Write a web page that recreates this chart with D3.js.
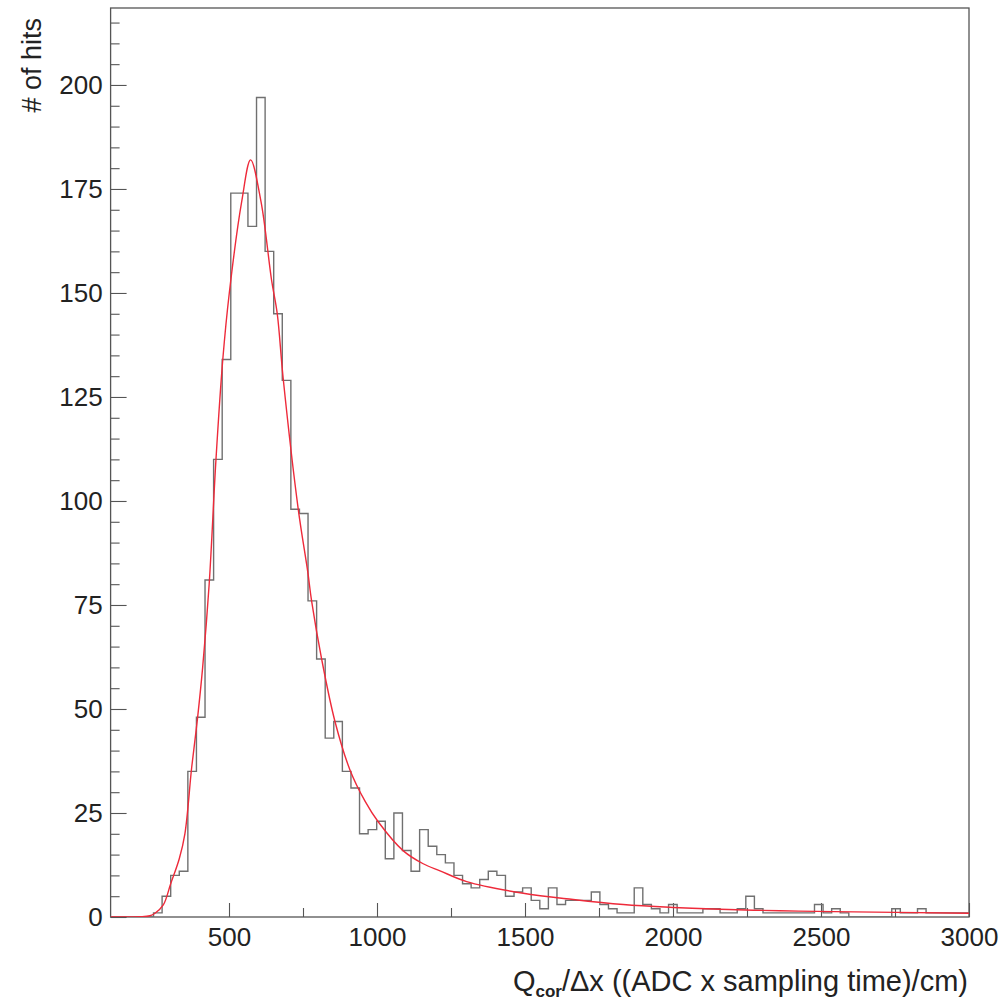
<!DOCTYPE html>
<html><head><meta charset="utf-8">
<script src="https://cdn.jsdelivr.net/npm/d3@7"></script>
<style>body{margin:0;background:#fff}</style>
</head><body><svg id="c" width="1005" height="1000"></svg>
<script>
// ---- data ----
const binStart = 100;
const binWidth = 29;
const counts = [
  0, 0, 0, 0, 0, 1, 5, 10, 11, 35,
  48, 81, 110, 134, 174, 174, 166, 197, 160, 145,
  129, 98, 97, 76, 62, 43, 47, 35, 31, 20,
  21, 23, 14, 25, 16, 11, 21, 17, 15, 13,
  10, 8, 7, 9, 11, 10, 5, 6, 7, 4,
  2, 7, 3, 4, 4, 4, 6, 3, 2, 1,
  1, 7, 3, 2, 1, 3, 1, 1, 1, 2,
  2, 1, 1, 2, 5, 2, 1, 1, 1, 1,
  1, 1, 3, 1, 2, 1, 0, 0, 0, 0,
  0, 2, 1, 1, 2, 1, 1, 1, 1, 1
];
const fitX = [100, 200, 233, 250, 278, 303, 332, 351, 374, 394, 411, 433, 456, 479, 501, 543, 573, 608, 644, 663, 683, 734, 766, 779, 813, 858, 909, 960, 1004, 1089, 1156, 1213, 1303, 1494, 1663, 1832, 2001, 2159, 2361, 2542, 3000];
const fitY = [0, 0.05, 0.3, 0.9, 2.9, 8, 14, 20, 36, 48, 60, 80, 110, 134, 150, 172, 182, 172, 153, 145, 129.5, 98, 83, 76, 62, 47, 35.3, 27.8, 22.9, 15.9, 12.8, 11.1, 8.5, 5.7, 4.2, 3.0, 2.3, 1.85, 1.5, 1.3, 0.9];
const xMajorTicks = [500, 1000, 1500, 2000, 2500, 3000];
const xMinorTicks = [750, 1250, 1750, 2250, 2750];
const yMajorTicks = [0, 25, 50, 75, 100, 125, 150, 175, 200];
const xDomain = [100, 3000];
const yDomain = [0, 218.5];
const yLabel = "# of hits";

// ---- layout ----
const L = 110.6, R = 969, T = 8, B = 917;
const svg = d3.select("#c");
const x = d3.scaleLinear(xDomain, [L, R]);
const y = d3.scaleLinear(yDomain, [B, T]);
const yMinorTicks = d3.range(0, 218.5, 5).filter(v => v % 25 !== 0);
const FONT = "'Liberation Sans', Arial, Helvetica, sans-serif";

svg.append("defs").append("clipPath").attr("id", "clip")
  .append("rect").attr("x", L).attr("y", T).attr("width", R - L).attr("height", B - T);

// axes
function styleAxis(g) {
  g.select(".domain").remove();
  g.selectAll("line").attr("stroke", "#555").attr("stroke-width", 1.1);
  g.selectAll("text").attr("fill", "#222").style("font-family", FONT).style("font-size", "26px");
}
svg.append("g").attr("transform", `translate(0,${B})`)
  .call(d3.axisBottom(x).tickValues(xMajorTicks).tickSize(-14).tickPadding(11).tickFormat(d3.format("d")))
  .call(styleAxis);
svg.append("g").attr("transform", `translate(0,${B})`)
  .call(d3.axisBottom(x).tickValues(xMinorTicks).tickSize(-9).tickFormat(""))
  .call(styleAxis);
svg.append("g").attr("transform", `translate(${L},0)`)
  .call(d3.axisLeft(y).tickValues(yMajorTicks).tickSize(-16).tickPadding(8).tickFormat(d3.format("d")))
  .call(styleAxis);
svg.append("g").attr("transform", `translate(${L},0)`)
  .call(d3.axisLeft(y).tickValues(yMinorTicks).tickSize(-9).tickFormat(""))
  .call(styleAxis);

// frame
svg.append("rect").attr("x", L).attr("y", T).attr("width", R - L).attr("height", B - T)
  .attr("fill", "none").attr("stroke", "#555").attr("stroke-width", 1.3);

// histogram
const histPts = counts.map((c, i) => [binStart + i * binWidth, c]);
histPts.push([binStart + counts.length * binWidth, counts[counts.length - 1]]);
svg.append("path").attr("clip-path", "url(#clip)")
  .attr("d", d3.line().x(d => x(d[0])).y(d => y(d[1])).curve(d3.curveStepAfter)(histPts))
  .attr("fill", "none").attr("stroke", "#707070").attr("stroke-width", 1.4);

// fit curve
const fitPts = fitX.map((v, i) => [v, fitY[i]]);
svg.append("path").attr("clip-path", "url(#clip)")
  .attr("d", d3.line().x(d => x(d[0])).y(d => y(d[1])).curve(d3.curveCatmullRom.alpha(0.5))(fitPts))
  .attr("fill", "none").attr("stroke", "#ee2a3a").attr("stroke-width", 1.4);

// titles
svg.append("text").attr("transform", "translate(41,18) rotate(-90)")
  .attr("text-anchor", "end").attr("fill", "#222")
  .style("font-family", FONT).style("font-size", "27px").text(yLabel);

const xt = svg.append("text").attr("x", 968).attr("y", 991).attr("text-anchor", "end")
  .attr("fill", "#222").style("font-family", FONT).style("font-size", "29px");
xt.append("tspan").text("Q");
xt.append("tspan").attr("dy", 6).style("font-size", "17px").style("font-weight", "bold").text("cor");
xt.append("tspan").attr("dy", -6).text("/\u0394x ((ADC x sampling time)/cm)");
</script></body></html>
